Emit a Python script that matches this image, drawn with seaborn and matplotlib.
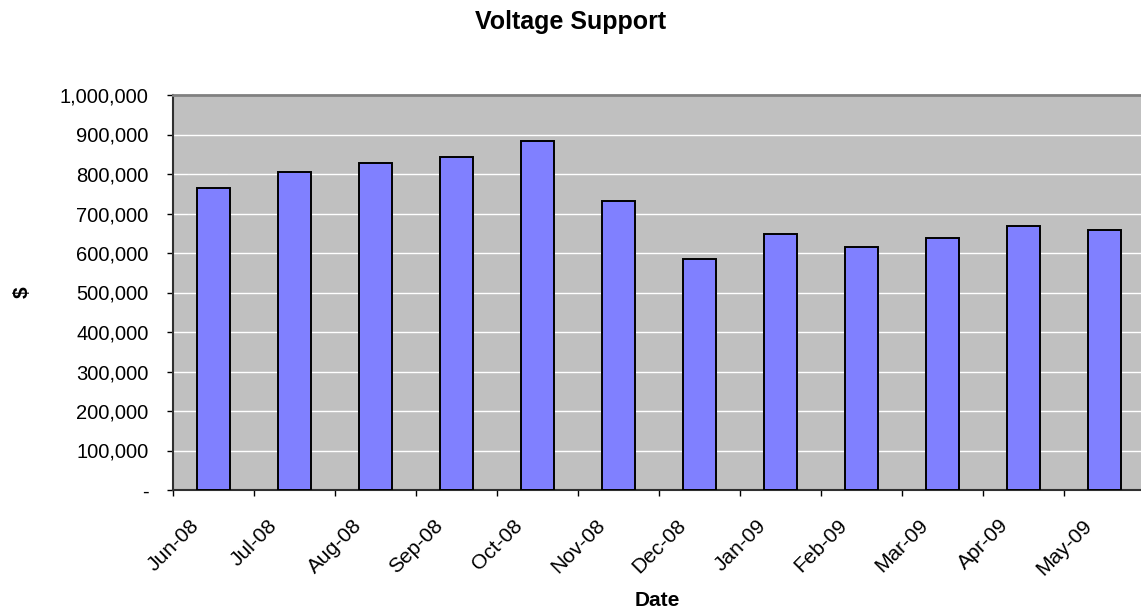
import numpy as np
import pandas as pd
import matplotlib
matplotlib.use("Agg")
import matplotlib.pyplot as plt
import matplotlib.transforms as mtransforms
from matplotlib.ticker import FuncFormatter
import seaborn as sns

# Monthly voltage support cost
months = ["Jun-08", "Jul-08", "Aug-08", "Sep-08", "Oct-08", "Nov-08",
          "Dec-08", "Jan-09", "Feb-09", "Mar-09", "Apr-09", "May-09"]
amounts = [765000, 804000, 829000, 844000, 883000, 731000,
           585000, 649000, 615000, 639000, 669000, 659000]
y_ticks = [0, 100000, 200000, 300000, 400000, 500000,
           600000, 700000, 800000, 900000, 1000000]

df = pd.DataFrame({"Date": months, "Amount": amounts})

sns.set_theme(style="white")
plt.rcParams["font.family"] = ["Liberation Sans", "DejaVu Sans"]
plt.rcParams["text.color"] = "black"
plt.rcParams["axes.labelcolor"] = "black"

W, H = 1141, 614
fig = plt.figure(figsize=(W / 100, H / 100), dpi=100)
ax = fig.add_axes([173 / W, 1 - 490 / H, (W - 173) / W, (490 - 95) / H])
ax.set_facecolor("#C0C0C0")

sns.barplot(data=df, x="Date", y="Amount", ax=ax, color="#8080FF",
            saturation=1, width=0.41, edgecolor="black", linewidth=1.4,
            zorder=3)

ax.set_ylim(0, 1000000)
ax.set_xlim(-0.5, 11.45)
ax.set_yticks(y_ticks)
ax.yaxis.set_major_formatter(FuncFormatter(lambda v, p: "-" if v == 0 else f"{int(v):,}"))
ax.grid(axis="y", color="white", linewidth=1.0, zorder=1)
ax.grid(axis="x", visible=False)
ax.set_axisbelow(True)

# month boundaries carry the tick marks and labels
ax.set_xticks(np.arange(len(months)) - 0.5)
ax.set_xticklabels(months, rotation=45, ha="center", va="top")
offset = mtransforms.ScaledTranslation(7 / 100, 0, fig.dpi_scale_trans)
for lbl in ax.get_xticklabels():
    lbl.set_transform(lbl.get_transform() + offset)
    lbl.set_fontsize(15)

ax.tick_params(axis="both", which="both", direction="out", length=4.5,
               width=1.0, color="black", colors="black",
               bottom=True, left=True)
ax.tick_params(axis="y", labelsize=14.5, pad=13)
ax.tick_params(axis="x", pad=14)

for side in ["left", "bottom"]:
    ax.spines[side].set_color("#303030")
    ax.spines[side].set_linewidth(1.5)
ax.spines["top"].set_color("#808080")
ax.spines["top"].set_linewidth(2.0)
ax.spines["right"].set_visible(False)

ax.set_xlabel("Date", fontsize=15, fontweight="bold", color="black")
ax.xaxis.label.set_va("center")
ax.xaxis.set_label_coords(0.5, 1 - 601 / H, transform=mtransforms.blended_transform_factory(ax.transAxes, fig.transFigure))
ax.set_ylabel("$", fontsize=15, fontweight="bold", color="black")
ax.yaxis.label.set_va("center")
ax.yaxis.set_label_coords(22 / W, 0.5, transform=mtransforms.blended_transform_factory(fig.transFigure, ax.transAxes))

fig.text(0.5, 1 - 22 / H, "Voltage Support", ha="center", va="center",
         fontsize=18, fontweight="bold", color="black")

fig.savefig("out.png", dpi=100)
